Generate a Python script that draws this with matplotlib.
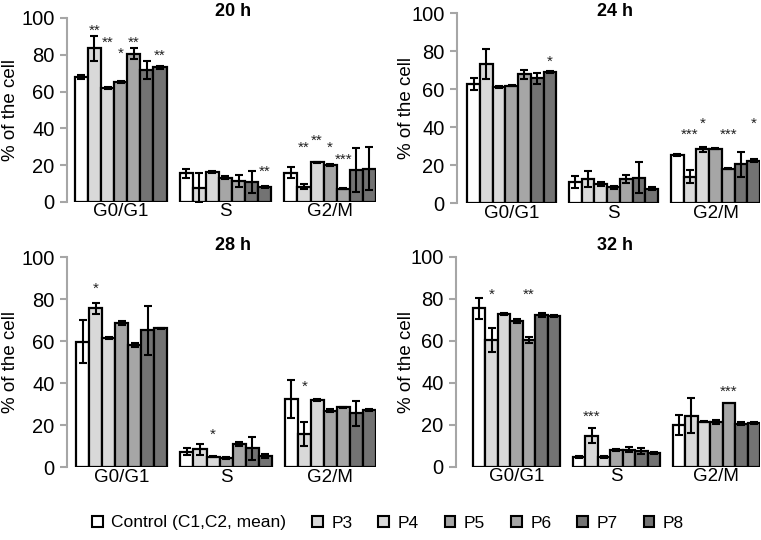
import numpy as np
import matplotlib
matplotlib.use("Agg")
import matplotlib.pyplot as plt
from matplotlib.patches import Patch

plt.rcParams['font.family'] = ['Liberation Sans', 'DejaVu Sans']

# --- Данные ---
phases = ["G0/G1", "S", "G2/M"]
series = ["Control (C1,C2, mean)", "P3", "P4", "P5", "P6", "P7", "P8"]
colors = ["#ffffff", "#d9d9d9", "#d9d9d9", "#a6a6a6", "#a6a6a6", "#737373", "#737373"]
times = ["20 h", "24 h", "28 h", "32 h"]

# строки: фазы, столбцы: серии
mean_20h = [[68.0, 83.5, 61.8, 65.3, 80.7, 71.6, 73.3],
            [15.6, 7.5, 16.2, 13.3, 11.6, 11.1, 8.0],
            [16.0, 8.4, 21.5, 20.2, 7.3, 17.5, 18.2]]
err_20h = [[1.0, 6.7, 0.5, 0.5, 3.0, 5.0, 0.8],
           [2.4, 8.0, 0.6, 0.6, 3.2, 6.0, 0.6],
           [2.8, 1.6, 0.3, 0.5, 0.3, 12.0, 11.6]]

mean_24h = [[62.8, 73.3, 61.0, 62.0, 67.9, 65.8, 69.2],
            [11.2, 12.8, 10.0, 8.4, 13.0, 13.5, 7.7],
            [25.6, 14.0, 28.4, 28.8, 18.2, 20.5, 22.5]]
err_24h = [[3.2, 8.0, 0.5, 0.5, 2.4, 2.8, 0.6],
           [3.4, 4.4, 1.0, 0.8, 2.1, 8.2, 0.7],
           [0.6, 3.5, 1.4, 0.3, 0.4, 6.6, 0.8]]

mean_28h = [[59.8, 75.7, 61.7, 68.6, 58.3, 65.2, 66.2],
            [7.5, 8.6, 5.1, 4.3, 11.0, 9.0, 5.4],
            [32.5, 15.9, 32.1, 27.0, 28.6, 25.7, 27.3]]
err_28h = [[10.3, 2.7, 0.5, 1.0, 1.0, 11.8, 0.3],
           [1.7, 2.7, 0.3, 0.5, 1.0, 5.5, 1.0],
           [9.0, 5.6, 0.4, 0.8, 0.3, 6.0, 0.5]]

mean_32h = [[75.6, 60.4, 72.8, 69.6, 60.4, 72.4, 72.0],
            [4.6, 14.8, 4.8, 8.1, 8.1, 7.5, 6.6],
            [20.0, 24.3, 21.5, 21.5, 30.5, 20.5, 20.8]]
err_32h = [[5.0, 5.6, 0.4, 1.0, 1.6, 0.8, 0.4],
           [0.4, 3.6, 0.5, 0.4, 1.2, 1.6, 0.4],
           [4.8, 8.4, 0.2, 1.0, 0.0, 0.6, 0.6]]

# звёздочки: (фаза, серия, метка, высота)
stars_20h = [(0, 1, "**", 93), (0, 2, "**", 86.5), (0, 3, "*", 80.5), (0, 4, "**", 86.5),
             (0, 6, "**", 79.5), (1, 6, "**", 16.5), (2, 1, "**", 29.5), (2, 2, "**", 33),
             (2, 3, "*", 29.5), (2, 4, "***", 23)]
stars_24h = [(0, 6, "*", 74.5), (2, 1, "***", 36), (2, 2, "*", 42), (2, 4, "***", 36),
             (2, 6, "*", 42)]
stars_28h = [(0, 1, "*", 85), (1, 2, "*", 15.5), (2, 1, "*", 38.5)]
stars_32h = [(0, 1, "*", 82), (0, 4, "**", 82), (1, 1, "***", 24), (2, 4, "***", 35.5)]

all_means = [mean_20h, mean_24h, mean_28h, mean_32h]
all_errs = [err_20h, err_24h, err_28h, err_32h]
all_stars = [stars_20h, stars_24h, stars_28h, stars_32h]

# --- Раскладка (в пикселях 761x540) ---
W, H = 761, 540
# left, right, y(0), y(100), левый отступ в ширинах столбца, центр заголовка x, y
panels = [(67, 376, 202, 18, 0.6, 233, 11),
          (457, 760, 203.3, 13.3, 0.8, 615, 11),
          (67, 376, 467.3, 257.3, 0.7, 233, 246),
          (456, 760, 466.7, 257, 1.36, 615, 246)]
ylabel_x = [-0.155, -0.139, -0.155, -0.136]

fig = plt.figure(figsize=(W / 100, H / 100), dpi=100)
GREY = "#a6a6a6"

for k, (l, r, y0, y1, m, tx, ty) in enumerate(panels):
    ax = fig.add_axes([l / W, 1 - y0 / H, (r - l) / W, (y0 - y1) / H])
    means = all_means[k]
    errs = all_errs[k]
    for p in range(len(phases)):
        for s in range(len(series)):
            x = p * 8 + s
            ax.bar(x, means[p][s], width=1.0, color=colors[s], edgecolor="black",
                   linewidth=1.6, zorder=2)
            if errs[p][s] > 0:
                ax.errorbar(x, means[p][s], yerr=errs[p][s], fmt="none", ecolor="black",
                            elinewidth=1.5, capsize=3, capthick=1.5, zorder=3)
    for p, s, lab, yy in all_stars[k]:
        ax.text(p * 8 + s, yy, lab, ha="center", va="center", fontsize=11, color="#222222")

    ax.set_xlim(-0.5 - m, 22.5)
    ax.set_ylim(0, 100)
    ax.set_yticks(range(0, 101, 20))
    ax.set_xticks([3, 11, 19])
    ax.set_xticklabels(phases)
    ax.tick_params(axis="x", length=0, pad=1, labelsize=13.5)
    ax.tick_params(axis="y", length=5, width=1.5, color=GREY, pad=4, labelsize=14.5)
    for sp in ["top", "right", "bottom"]:
        ax.spines[sp].set_visible(False)
    ax.spines["left"].set_color(GREY)
    ax.spines["left"].set_linewidth(1.5)
    ax.set_ylabel("% of the cell", fontsize=13.5)
    ax.yaxis.set_label_coords(ylabel_x[k], 0.5)
    fig.text(tx / W, 1 - ty / H, times[k], ha="center", va="center",
             fontsize=13, fontweight="bold")

handles = [Patch(facecolor=c, edgecolor="black", linewidth=1.5) for c in colors]
fig.legend(handles, series, loc="center", bbox_to_anchor=(388 / W, 1 - 523 / H),
           ncol=7, frameon=False, fontsize=12.5, handlelength=0.6, handleheight=0.6,
           handletextpad=0.5, columnspacing=1.5)

fig.savefig("out.png", dpi=100)
